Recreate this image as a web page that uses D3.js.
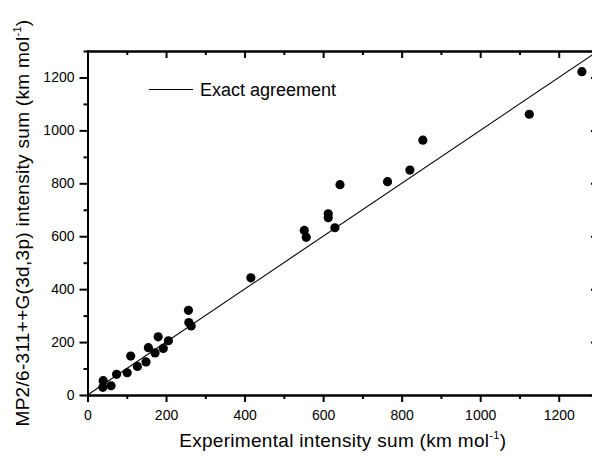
<!DOCTYPE html>
<html lang="en">
<head>
<meta charset="utf-8">
<title>intensity sum scatter</title>
<script src="https://d3js.org/d3.v7.min.js"></script>
<style>
  body{margin:0;background:#fff;}
  svg text{font-family:"Liberation Sans",Arial,Helvetica,sans-serif;fill:#000;}
  .axis path,.axis line{stroke:#000;stroke-width:2;}
  .axis text{font-size:14px;}
</style>
</head>
<body>
<div id="chart"></div>
<script>
// values (km mol-1)
var expSum  = [40, 39, 60, 74, 101, 110, 127, 149, 155, 172, 180, 193, 206, 257, 258, 264, 416,
               552, 557, 613, 613, 630, 643, 764, 821, 854, 1125, 1259]
var calcSum = [54, 29, 35, 78, 84, 147, 108, 125, 179, 159, 220, 176, 205, 320, 274, 261, 443,
               622, 596, 685, 670, 632, 795, 806, 850, 963, 1061, 1222]
var majorTicks = [0, 200, 400, 600, 800, 1000, 1200]
var minorTicks = [100, 300, 500, 700, 900, 1100, 1300]
var axisMax = 1300
var lineLabel = "Exact agreement"

var w = 592, h = 458
// plot frame (note: "top" is taken by window.top, so use pLeft etc)
var pLeft = 87.5, pRight = 598, pTop = 51, pBottom = 395

var x = d3.scaleLinear().domain([0, axisMax]).range([pLeft, pRight])
var y = d3.scaleLinear().domain([0, axisMax]).range([pBottom, pTop])

var svg = d3.select("#chart").append("svg")
  .attr("width", w).attr("height", h)

// axes: major ticks with labels, minor ticks shorter
function addAxis(gen, tx, ty, ticks, size, labels, pad){
  var g = svg.append("g").attr("class", "axis")
    .attr("transform", "translate(" + tx + "," + ty + ")")
    .call(gen.tickValues(ticks).tickSizeInner(size).tickSizeOuter(0).tickPadding(pad)
      .tickFormat(labels ? d3.format("d") : ""))
  return g
}
addAxis(d3.axisBottom(x), 0, pBottom, majorTicks, 7, true, 8)
addAxis(d3.axisBottom(x), 0, pBottom, minorTicks, 4, false, 3)
addAxis(d3.axisLeft(y), pLeft, 0, majorTicks, 8, true, 5)
addAxis(d3.axisLeft(y), pLeft, 0, minorTicks, 4, false, 3)
addAxis(d3.axisTop(x), 0, pTop, majorTicks, -7, false, 3)
addAxis(d3.axisTop(x), 0, pTop, minorTicks, -4, false, 3)
addAxis(d3.axisRight(y), pRight, 0, majorTicks, -7, false, 3)
addAxis(d3.axisRight(y), pRight, 0, minorTicks, -4, false, 3)
svg.selectAll(".axis .domain").attr("stroke-linecap", "square")

// y = x line
svg.append("line")
  .attr("x1", x(0)).attr("y1", y(0))
  .attr("x2", x(axisMax)).attr("y2", y(axisMax))
  .attr("stroke", "#000").attr("stroke-width", 1.1)

// points
svg.selectAll("circle.pt")
  .data(expSum.map(function(d, i){ return [d, calcSum[i]] }))
  .enter().append("circle")
  .attr("class", "pt")
  .attr("cx", function(d){ return x(d[0]) })
  .attr("cy", function(d){ return y(d[1]) })
  .attr("r", 4.6)
  .attr("fill", "#000")

// legend
svg.append("line")
  .attr("x1", 149).attr("x2", 193).attr("y1", 89.5).attr("y2", 89.5)
  .attr("stroke", "#000").attr("stroke-width", 1)
svg.append("text").attr("x", 200).attr("y", 96)
  .style("font-size", "18px").text(lineLabel)

// axis titles
var xt = svg.append("text")
  .attr("x", (pLeft + pRight) / 2).attr("y", 447)
  .attr("text-anchor", "middle")
  .style("font-size", "19px").style("letter-spacing", "0.3px")
xt.append("tspan").text("Experimental intensity sum (km mol")
xt.append("tspan").attr("dy", -8).style("font-size", "11px").text("-1")
xt.append("tspan").attr("dy", 8).text(")")

var yt = svg.append("text")
  .attr("transform", "translate(29," + (pTop + pBottom) / 2 + ") rotate(-90)")
  .attr("text-anchor", "middle")
  .style("font-size", "19px").style("letter-spacing", "0.3px")
yt.append("tspan").text("MP2/6-311++G(3d,3p) intensity sum (km mol")
yt.append("tspan").attr("dy", -8).style("font-size", "11px").text("-1")
yt.append("tspan").attr("dy", 8).text(")")
</script>
</body>
</html>
